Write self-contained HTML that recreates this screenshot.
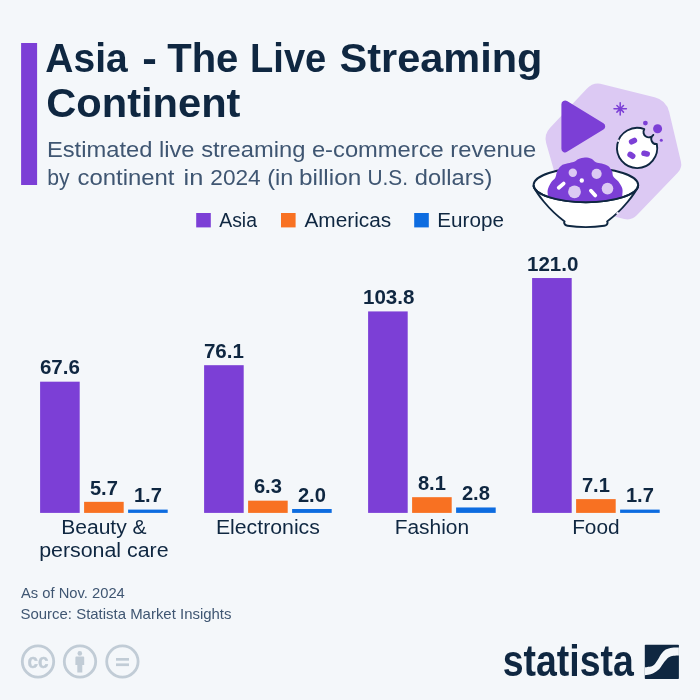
<!DOCTYPE html>
<html lang="en"><head><meta charset="utf-8"><title>Asia - The Live Streaming Continent</title>
<style>
html,body{margin:0;padding:0;background:#f4f7fa;}
body{width:700px;height:700px;overflow:hidden;}
svg{display:block;font-family:"Liberation Sans", Arial, Helvetica, sans-serif;}
</style></head><body>
<svg width="700" height="700" viewBox="0 0 700 700">
<rect width="700" height="700" fill="#f4f7fa"/>
<rect x="21.1" y="43" width="16" height="142" fill="#7c3fd6"/>
<text y="72" font-size="40.6" fill="#0f2741" font-weight="bold"><tspan x="45.30" textLength="82.40" lengthAdjust="spacingAndGlyphs">Asia</tspan> <tspan x="142.30" textLength="14.60" lengthAdjust="spacingAndGlyphs">-</tspan> <tspan x="167.20" textLength="71.20" lengthAdjust="spacingAndGlyphs">The</tspan> <tspan x="250.10" textLength="76.20" lengthAdjust="spacingAndGlyphs">Live</tspan> <tspan x="339.50" textLength="202.90" lengthAdjust="spacingAndGlyphs">Streaming</tspan></text>
<text x="46.2" y="116.6" font-size="40.6" fill="#0f2741" font-weight="bold" text-anchor="start" textLength="194.3" lengthAdjust="spacingAndGlyphs">Continent</text>
<text x="46.9" y="156.8" font-size="22.2" fill="#3f5672" font-weight="normal" text-anchor="start" textLength="489.2" lengthAdjust="spacingAndGlyphs">Estimated live streaming e-commerce revenue</text>
<text y="185" font-size="22.2" fill="#3f5672" font-weight="normal"><tspan x="47.20" textLength="22.40" lengthAdjust="spacingAndGlyphs">by</tspan> <tspan x="77.50" textLength="97.00" lengthAdjust="spacingAndGlyphs">continent</tspan> <tspan x="183.60" textLength="19.80" lengthAdjust="spacingAndGlyphs">in</tspan> <tspan x="210.30" textLength="50.40" lengthAdjust="spacingAndGlyphs">2024</tspan> <tspan x="267.20" textLength="26.10" lengthAdjust="spacingAndGlyphs">(in</tspan> <tspan x="299.00" textLength="62.30" lengthAdjust="spacingAndGlyphs">billion</tspan> <tspan x="367.50" textLength="40.60" lengthAdjust="spacingAndGlyphs">U.S.</tspan> <tspan x="414.80" textLength="77.50" lengthAdjust="spacingAndGlyphs">dollars)</tspan></text>
<rect x="196.2" y="213" width="14.6" height="14.4" fill="#7c3fd6"/>
<text x="219.2" y="227" font-size="19.6" fill="#0f2741" font-weight="normal" text-anchor="start" textLength="37.8" lengthAdjust="spacingAndGlyphs">Asia</text>
<rect x="281" y="213" width="14.6" height="14.4" fill="#f87122"/>
<text x="304.4" y="227" font-size="19.6" fill="#0f2741" font-weight="normal" text-anchor="start" textLength="86.8" lengthAdjust="spacingAndGlyphs">Americas</text>
<rect x="414.2" y="213" width="14.6" height="14.4" fill="#0d6ce0"/>
<text x="437.3" y="227" font-size="19.6" fill="#0f2741" font-weight="normal" text-anchor="start" textLength="66.6" lengthAdjust="spacingAndGlyphs">Europe</text>
<rect x="40.10" y="381.69" width="39.6" height="131.21" fill="#7c3fd6"/>
<text x="59.90" y="374.39" font-size="20" fill="#0f2741" font-weight="bold" text-anchor="middle" textLength="40" lengthAdjust="spacingAndGlyphs">67.6</text>
<rect x="84.10" y="501.84" width="39.6" height="11.06" fill="#f87122"/>
<text x="103.90" y="494.54" font-size="20" fill="#0f2741" font-weight="bold" text-anchor="middle" textLength="28" lengthAdjust="spacingAndGlyphs">5.7</text>
<rect x="128.10" y="509.60" width="39.6" height="3.30" fill="#0d6ce0"/>
<text x="147.90" y="502.30" font-size="20" fill="#0f2741" font-weight="bold" text-anchor="middle" textLength="28" lengthAdjust="spacingAndGlyphs">1.7</text>
<text x="103.90" y="534.4" font-size="19.6" fill="#0f2741" font-weight="normal" text-anchor="middle" textLength="85.5" lengthAdjust="spacingAndGlyphs">Beauty &amp;</text>
<text x="103.90" y="556.6999999999999" font-size="19.6" fill="#0f2741" font-weight="normal" text-anchor="middle" textLength="129.5" lengthAdjust="spacingAndGlyphs">personal care</text>
<rect x="204.10" y="365.19" width="39.6" height="147.71" fill="#7c3fd6"/>
<text x="223.90" y="357.89" font-size="20" fill="#0f2741" font-weight="bold" text-anchor="middle" textLength="40" lengthAdjust="spacingAndGlyphs">76.1</text>
<rect x="248.10" y="500.67" width="39.6" height="12.23" fill="#f87122"/>
<text x="267.90" y="493.37" font-size="20" fill="#0f2741" font-weight="bold" text-anchor="middle" textLength="28" lengthAdjust="spacingAndGlyphs">6.3</text>
<rect x="292.10" y="509.02" width="39.6" height="3.88" fill="#0d6ce0"/>
<text x="311.90" y="501.72" font-size="20" fill="#0f2741" font-weight="bold" text-anchor="middle" textLength="28" lengthAdjust="spacingAndGlyphs">2.0</text>
<text x="267.90" y="534.4" font-size="19.6" fill="#0f2741" font-weight="normal" text-anchor="middle" textLength="104" lengthAdjust="spacingAndGlyphs">Electronics</text>
<rect x="368.10" y="311.42" width="39.6" height="201.48" fill="#7c3fd6"/>
<text x="388.70" y="304.12" font-size="20" fill="#0f2741" font-weight="bold" text-anchor="middle" textLength="51.5" lengthAdjust="spacingAndGlyphs">103.8</text>
<rect x="412.10" y="497.18" width="39.6" height="15.72" fill="#f87122"/>
<text x="431.90" y="489.88" font-size="20" fill="#0f2741" font-weight="bold" text-anchor="middle" textLength="28" lengthAdjust="spacingAndGlyphs">8.1</text>
<rect x="456.10" y="507.47" width="39.6" height="5.43" fill="#0d6ce0"/>
<text x="475.90" y="500.17" font-size="20" fill="#0f2741" font-weight="bold" text-anchor="middle" textLength="28" lengthAdjust="spacingAndGlyphs">2.8</text>
<text x="431.90" y="534.4" font-size="19.6" fill="#0f2741" font-weight="normal" text-anchor="middle" textLength="74.5" lengthAdjust="spacingAndGlyphs">Fashion</text>
<rect x="532.10" y="278.04" width="39.6" height="234.86" fill="#7c3fd6"/>
<text x="552.70" y="270.74" font-size="20" fill="#0f2741" font-weight="bold" text-anchor="middle" textLength="51.5" lengthAdjust="spacingAndGlyphs">121.0</text>
<rect x="576.10" y="499.12" width="39.6" height="13.78" fill="#f87122"/>
<text x="595.90" y="491.82" font-size="20" fill="#0f2741" font-weight="bold" text-anchor="middle" textLength="28" lengthAdjust="spacingAndGlyphs">7.1</text>
<rect x="620.10" y="509.60" width="39.6" height="3.30" fill="#0d6ce0"/>
<text x="639.90" y="502.30" font-size="20" fill="#0f2741" font-weight="bold" text-anchor="middle" textLength="28" lengthAdjust="spacingAndGlyphs">1.7</text>
<text x="595.90" y="534.4" font-size="19.6" fill="#0f2741" font-weight="normal" text-anchor="middle" textLength="47.5" lengthAdjust="spacingAndGlyphs">Food</text>
<text x="21" y="597.5" font-size="14.4" fill="#3f5672" font-weight="normal" text-anchor="start" textLength="103.8" lengthAdjust="spacingAndGlyphs">As of Nov. 2024</text>
<text x="20.5" y="619" font-size="14.4" fill="#3f5672" font-weight="normal" text-anchor="start" textLength="211" lengthAdjust="spacingAndGlyphs">Source: Statista Market Insights</text>
<circle cx="38" cy="661.5" r="15.7" fill="none" stroke="#c1ccd6" stroke-width="2.8"/>
<circle cx="80" cy="661.5" r="15.7" fill="none" stroke="#c1ccd6" stroke-width="2.8"/>
<circle cx="122.4" cy="661.5" r="15.7" fill="none" stroke="#c1ccd6" stroke-width="2.8"/>
<text x="38.1" y="667.5" font-size="21" font-weight="bold" fill="#c1ccd6" stroke="#c1ccd6" stroke-width="0.4" text-anchor="middle" textLength="21" lengthAdjust="spacingAndGlyphs">cc</text>
<circle cx="79.8" cy="653.4" r="2.3" fill="#c1ccd6"/>
<path d="M75.4,657.4 a1,1 0 0 1 1,-1 h6.8 a1,1 0 0 1 1,1 v7.6 h-1.9 v7.6 h-5 v-7.6 h-1.9 z" fill="#c1ccd6"/>
<rect x="116" y="658" width="13" height="2.7" fill="#c1ccd6"/>
<rect x="116" y="663.4" width="13" height="2.7" fill="#c1ccd6"/>
<text x="502.8" y="675.9" font-size="44" font-weight="bold" fill="#0f2741" textLength="131" lengthAdjust="spacingAndGlyphs">statista</text>
<path d="M586.77,88.75 A16.00,16.00 0 0 1 602.31,84.18 L654.59,97.25 A20.00,20.00 0 0 1 669.20,112.04 L680.89,161.44 A12.00,12.00 0 0 1 677.87,172.51 L636.77,215.31 A13.00,13.00 0 0 1 624.13,218.89 L570.49,204.97 A13.00,13.00 0 0 1 561.26,195.96 L546.20,143.33 A16.00,16.00 0 0 1 549.92,127.98 Z" fill="#dcc9f3"/>
<path d="M561.40,104.20 A3.70,3.70 0 0 1 567.03,101.04 L603.44,123.29 A3.70,3.70 0 0 1 603.44,129.61 L567.03,151.86 A3.70,3.70 0 0 1 561.40,148.70 Z" fill="#7c3fd6"/>
<path d="M620.2,102.7V114.89999999999999M614.0,108.8H626.4000000000001M616.9000000000001,105.5L623.5,112.1M616.9000000000001,112.1L623.5,105.5" stroke="#7c3fd6" stroke-width="1.5" stroke-linecap="round" fill="none"/>
<path d="M644.29,129.23 A5.0,5.0 0 0 0 653.27,134.92 A5.1,5.1 0 0 0 656.81,144.04 A20.1,20.1 0 1 1 644.29,129.23 Z" fill="#fff" stroke="#0f2741" stroke-width="1.9" stroke-linejoin="round"/>
<circle cx="618.34" cy="140.80" r="1.3" fill="#f3ecfb"/>
<circle cx="645.4" cy="123.1" r="2.4" fill="#7c3fd6"/>
<circle cx="657.6" cy="128.7" r="4.5" fill="#7c3fd6"/>
<circle cx="661.3" cy="140.3" r="1.5" fill="#7c3fd6"/>
<rect x="628.70" y="138.30" width="8.60" height="5.60" rx="2.8" ry="2.8" transform="rotate(-24.7 633 141.1)" fill="#7c3fd6"/>
<rect x="627.10" y="152.40" width="8.60" height="5.80" rx="2.9" ry="2.9" transform="rotate(33.7 631.4 155.3)" fill="#7c3fd6"/>
<rect x="641.20" y="150.80" width="8.80" height="5.60" rx="2.8" ry="2.8" transform="rotate(12 645.6 153.6)" fill="#7c3fd6"/>
<path d="M533.6,186.5 C536.7,193 547.7,209 564.6,221.4 L564.1,222.8 Q564.6,225.2 567.5,225.7 Q585.8,228.6 604.3,225.7 Q607.2,225.2 607.6,222.8 L607.1,221.4 C624,209 635,193 638.1,186.5 Z" fill="#fff" stroke="#0f2741" stroke-width="1.9" stroke-linejoin="round"/>
<circle cx="617.6" cy="213.3" r="1.25" fill="#f1eafa"/>
<ellipse cx="585.9" cy="185.1" rx="52.3" ry="17.1" fill="#fff" stroke="#0f2741" stroke-width="1.9"/>
<path d="M548.00,195.60 C547.95,194.65 547.22,192.03 547.70,189.90 C548.18,187.77 549.62,184.85 550.90,182.80 C552.18,180.75 554.32,179.63 555.40,177.60 C556.48,175.57 556.22,172.73 557.40,170.60 C558.58,168.47 560.47,166.08 562.50,164.80 C564.53,163.52 567.57,163.43 569.60,162.90 C571.63,162.37 573.20,162.25 574.70,161.60 C576.20,160.95 576.88,159.68 578.60,159.00 C580.32,158.32 582.87,157.55 585.00,157.50 C587.13,157.45 589.58,157.92 591.40,158.70 C593.22,159.48 594.18,161.40 595.90,162.20 C597.62,163.00 599.67,162.85 601.70,163.50 C603.73,164.15 606.38,164.82 608.10,166.10 C609.82,167.38 611.13,169.48 612.00,171.20 C612.87,172.92 612.23,174.68 613.30,176.40 C614.37,178.12 616.90,179.47 618.40,181.50 C619.90,183.53 621.65,186.35 622.30,188.60 C622.95,190.85 622.30,193.93 622.30,195.00 L622.30,197.08 L616.11,198.76 L609.92,199.99 L603.72,200.88 L597.53,201.47 L591.34,201.81 L585.15,201.90 L578.96,201.75 L572.77,201.35 L566.58,200.69 L560.38,199.73 L554.19,198.40 L548.00,196.58 Z" fill="#7c3fd6"/>
<path d="M533.6,185.1 A52.3,17.1 0 0 0 638.1999999999999,185.1" fill="none" stroke="#0f2741" stroke-width="1.9"/>
<circle cx="572.8" cy="172.8" r="4.2" fill="#dcc9f3"/>
<circle cx="596.6" cy="173.8" r="5.1" fill="#dcc9f3"/>
<circle cx="574.5" cy="191.8" r="6.4" fill="#dcc9f3"/>
<circle cx="607.5" cy="188.6" r="5.8" fill="#dcc9f3"/>
<circle cx="581.8" cy="180.5" r="2.2" fill="#fff"/>
<rect x="556.10" y="183.80" width="10.2" height="3.8" rx="1.9" transform="rotate(-40.7 561.2 185.7)" fill="#fff"/>
<rect x="588.00" y="191.20" width="10.2" height="3.8" rx="1.9" transform="rotate(47.5 593.1 193.1)" fill="#fff"/>
<g transform="translate(644.8,644.8)"><rect width="34.1" height="34.1" rx="0.7" fill="#0f2741"/><path d="M0.00,22.50 C1.33,22.23 5.92,22.02 8.00,20.90 C10.08,19.77 11.10,17.68 12.50,15.75 C13.90,13.82 15.00,11.12 16.40,9.30 C17.80,7.48 19.08,5.87 20.90,4.80 C22.72,3.73 25.10,3.27 27.30,2.90 C29.50,2.53 32.97,2.65 34.10,2.60 L34.1,10.6  C33.18,10.65 30.27,10.58 28.60,10.90 C26.93,11.22 25.60,11.48 24.10,12.50 C22.60,13.52 21.20,15.07 19.60,17.00 C18.00,18.93 16.43,22.17 14.50,24.10 C12.57,26.03 10.42,27.53 8.00,28.60 C5.58,29.67 1.33,30.18 0.00,30.50 Z" fill="#f4f7fa"/></g>
</svg>
</body></html>
